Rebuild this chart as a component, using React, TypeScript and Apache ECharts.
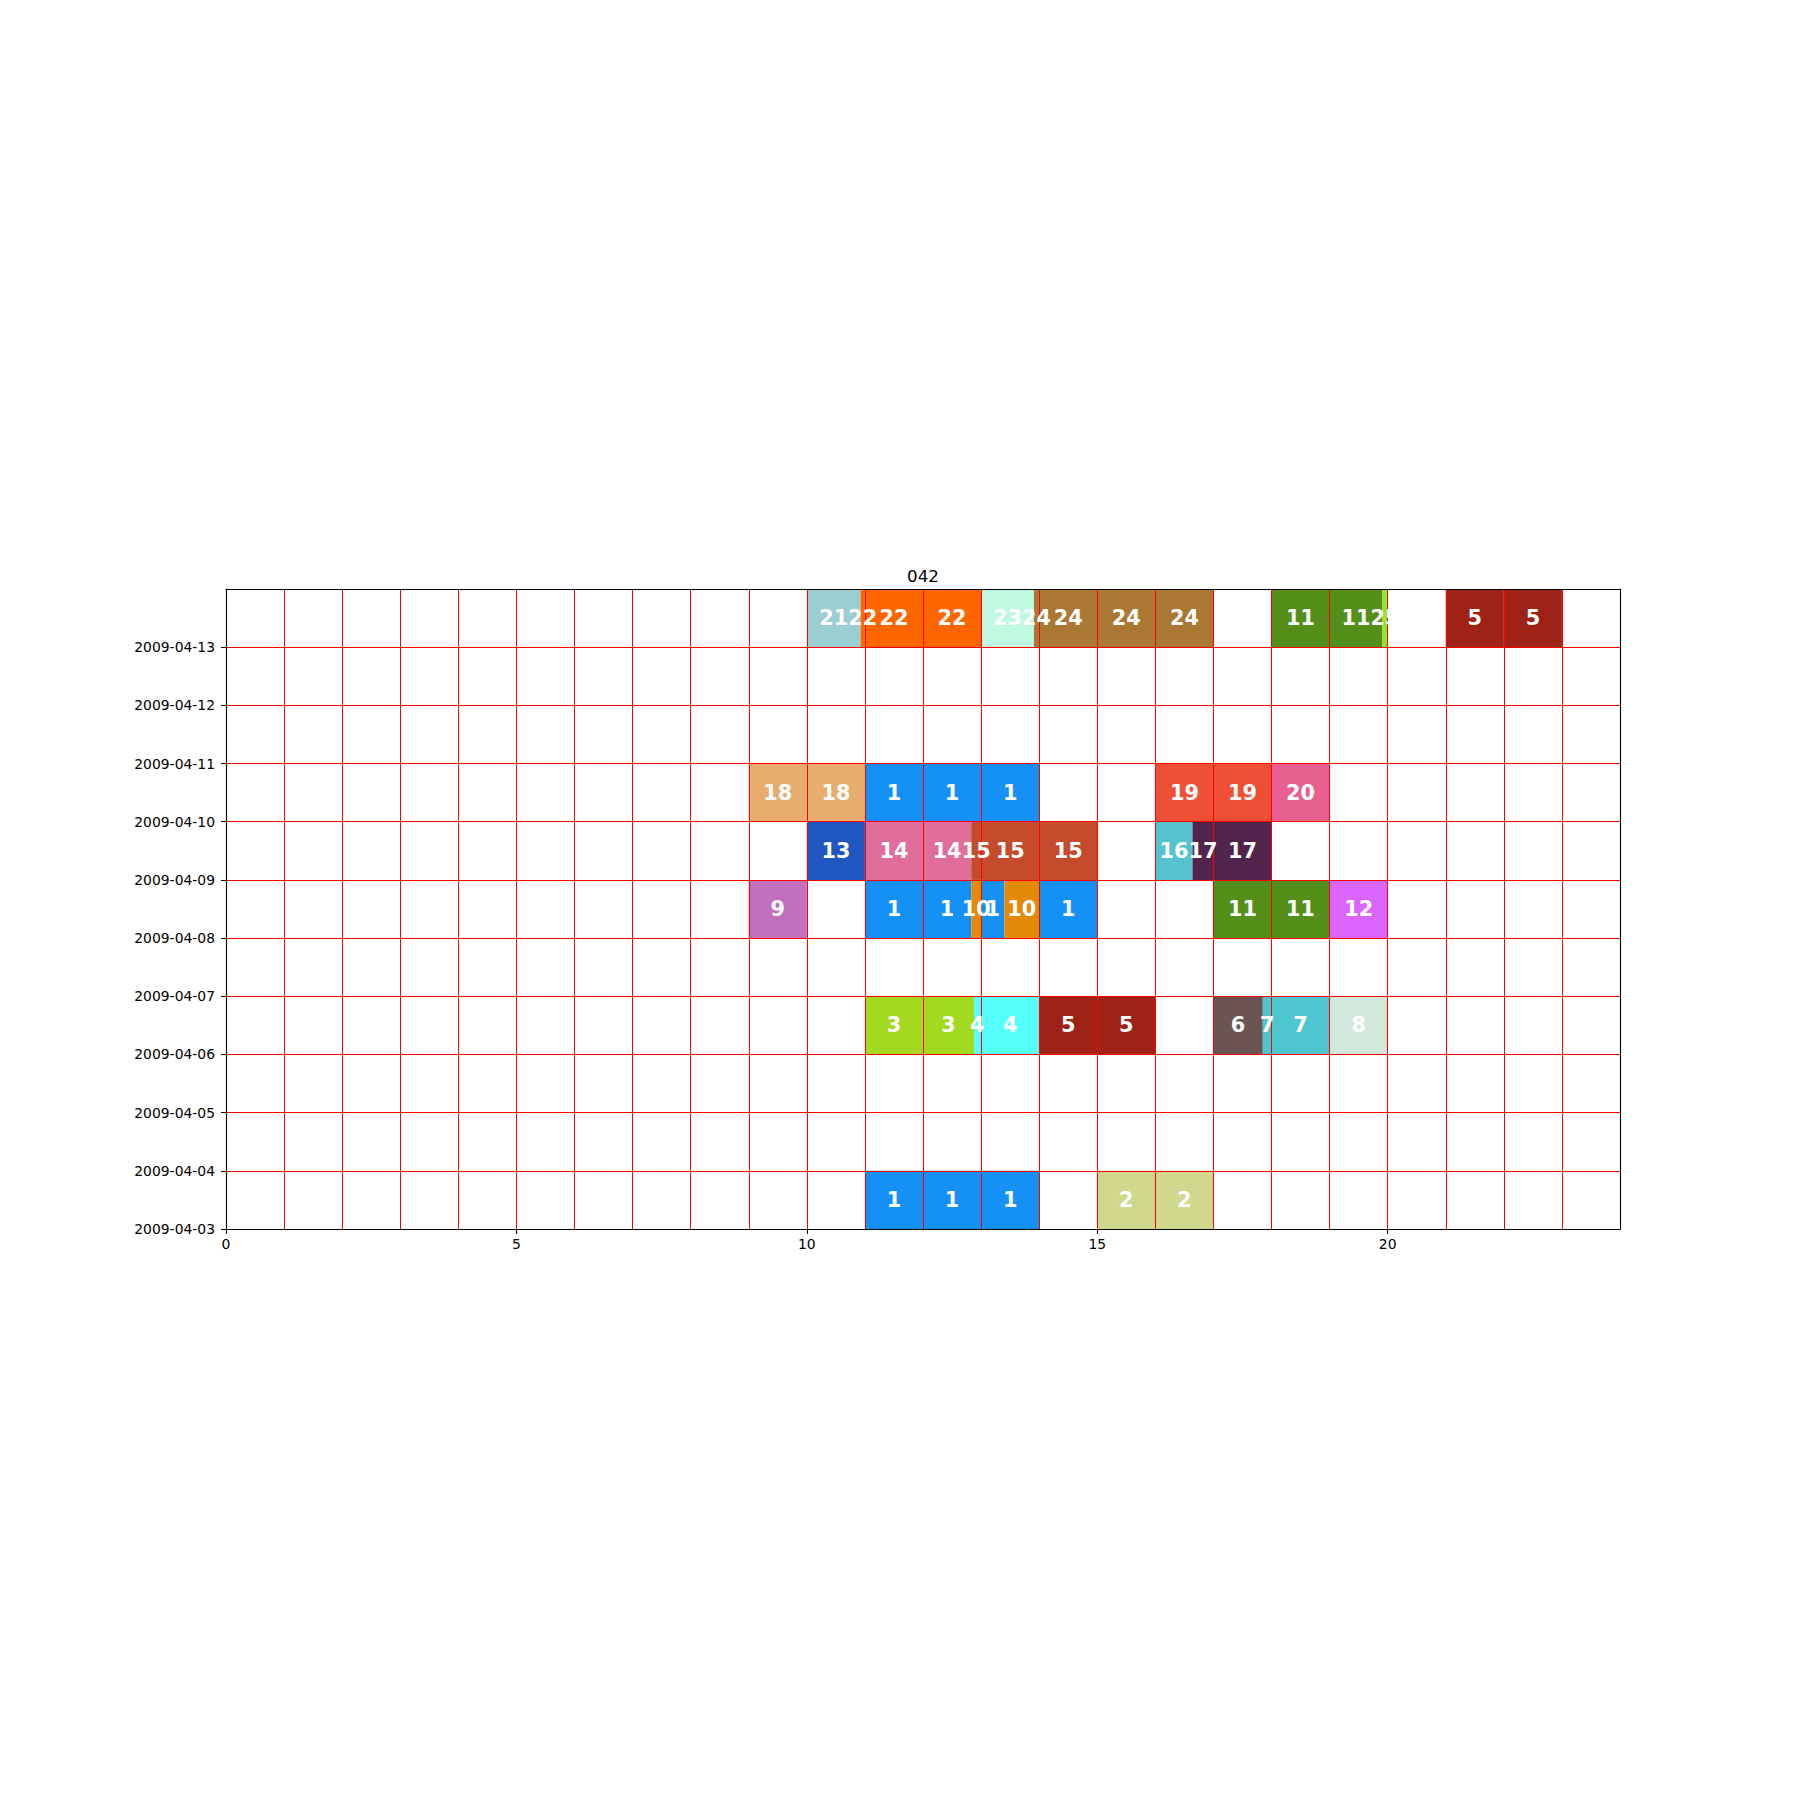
import React, { useEffect, useRef } from "react";
import * as echarts from "echarts";

const chartTitle = "042";

// y tick labels (one per day boundary)
const dateLabels = [
  "2009-04-03", "2009-04-04", "2009-04-05", "2009-04-06", "2009-04-07",
  "2009-04-08", "2009-04-09", "2009-04-10", "2009-04-11", "2009-04-12", "2009-04-13",
];
const yMax = 11; // top edge = 2009-04-14
const xMin = 0;
const xMax = 24;
const xTickLabels = [0, 5, 10, 15, 20];

// task colours
const taskColors: Record<number, string> = {
  1: "#1591F6", 2: "#D0D88E", 3: "#A3DA20", 4: "#55FFFB", 5: "#9E2316",
  6: "#6B5452", 7: "#4EC6D0", 8: "#D1E8DC", 9: "#C270BD", 10: "#E38B08",
  11: "#548F1A", 12: "#DA66FF", 13: "#1F56BF", 14: "#E06E98", 15: "#C54B2D",
  16: "#55C3CE", 17: "#52234B", 18: "#E8AD6E", 19: "#EE4F35", 20: "#E86090",
  21: "#9ACED3", 22: "#FF6600", 23: "#C0F9E2", 24: "#AB7834", 25: "#8FE62A",
};

// segments per day: [startHour, endHour, task]
const row0403 = [[11, 12, 1], [12, 13, 1], [13, 14, 1], [15, 16, 2], [16, 17, 2]];
const row0406 = [
  [11, 12, 3], [12, 12.88, 3], [12.88, 13, 4], [13, 14, 4], [14, 15, 5], [15, 16, 5],
  [17, 17.85, 6], [17.85, 18, 7], [18, 19, 7], [19, 20, 8],
];
const row0408 = [
  [9, 10, 9], [11, 12, 1], [12, 12.83, 1], [12.83, 13, 10], [13, 13.4, 1], [13.4, 14, 10],
  [14, 15, 1], [17, 18, 11], [18, 19, 11], [19, 20, 12],
];
const row0409 = [
  [10, 11, 13], [11, 12, 14], [12, 12.83, 14], [12.83, 13, 15], [13, 14, 15], [14, 15, 15],
  [16, 16.64, 16], [16.64, 17, 17], [17, 18, 17],
];
const row0410 = [
  [9, 10, 18], [10, 11, 18], [11, 12, 1], [12, 13, 1], [13, 14, 1],
  [16, 17, 19], [17, 18, 19], [18, 19, 20],
];
const row0413 = [
  [10, 10.925, 21], [10.925, 11, 22], [11, 12, 22], [12, 13, 22], [13, 13.91, 23],
  [13.91, 14, 24], [14, 15, 24], [15, 16, 24], [16, 17, 24],
  [18, 19, 11], [19, 19.91, 11], [19.91, 20, 25], [21, 22, 5], [22, 23, 5],
];

const rowsByDate: [string, number[][]][] = [
  ["2009-04-03", row0403],
  ["2009-04-06", row0406],
  ["2009-04-08", row0408],
  ["2009-04-09", row0409],
  ["2009-04-10", row0410],
  ["2009-04-13", row0413],
];

const segments: number[][] = [];
rowsByDate.forEach(([d, segs]) => {
  const r = dateLabels.indexOf(d);
  segs.forEach((s) => segments.push([s[0], s[1], r, s[2]]));
});

const FONT = "DejaVu Sans";

export default function App() {
  const ref = useRef<HTMLDivElement>(null);
  useEffect(() => {
    document.body.style.margin = "0";
    if (!ref.current) return;
    const chart = echarts.init(ref.current, undefined, { renderer: "svg" });

    const L = 226, T = 589, W = 1394, H = 640;
    const option: any = {
      animation: false,
      backgroundColor: "#ffffff",
      graphic: [
        {
          type: "text",
          x: L + W / 2,
          y: 575.5,
          style: {
            text: chartTitle,
            fontFamily: FONT,
            fontSize: 16.7,
            fill: "#000",
            align: "center",
            verticalAlign: "middle",
          },
        },
      ],
      grid: [
        { left: L, top: T, width: W, height: H, containLabel: false },
        {
          left: L,
          top: T + H / yMax,
          width: (W * 20) / (xMax - xMin),
          height: (H * 10) / yMax,
          containLabel: false,
        },
      ],
      xAxis: [
        {
          type: "value", gridIndex: 0, min: xMin, max: xMax, interval: 1, position: "bottom", z: 5,
          axisLine: { show: true, onZero: false, lineStyle: { color: "#000", width: 1.1 } },
          axisTick: { show: false },
          axisLabel: { show: false },
          splitLine: { show: true, showMinLine: false, showMaxLine: false, lineStyle: { color: "#ff0000", width: 1 } },
        },
        {
          type: "value", gridIndex: 0, min: xMin, max: xMax, position: "top", z: 6,
          axisLine: { show: true, onZero: false, lineStyle: { color: "#000", width: 1.1 } },
          axisTick: { show: false }, axisLabel: { show: false }, splitLine: { show: false },
        },
        {
          type: "value", gridIndex: 1, min: 0, max: 20, interval: 5, position: "bottom",
          axisLine: { show: false, onZero: false },
          axisTick: { show: true, length: 4.9, lineStyle: { color: "#000", width: 1.1 } },
          axisLabel: {
            show: true, margin: 8, color: "#000", fontFamily: FONT, fontSize: 13.9,
            formatter: (v: number) => (xTickLabels.indexOf(v) >= 0 ? String(v) : ""),
          },
          splitLine: { show: false },
        },
      ],
      yAxis: [
        {
          type: "value", gridIndex: 0, min: 0, max: yMax, interval: 1, position: "left", z: 5,
          axisLine: { show: true, onZero: false, lineStyle: { color: "#000", width: 1.1 } },
          axisTick: { show: false },
          axisLabel: { show: false },
          splitLine: { show: true, showMinLine: false, showMaxLine: false, lineStyle: { color: "#ff0000", width: 1 } },
        },
        {
          type: "value", gridIndex: 0, min: 0, max: yMax, position: "right", z: 6,
          axisLine: { show: true, onZero: false, lineStyle: { color: "#000", width: 1.1 } },
          axisTick: { show: false }, axisLabel: { show: false }, splitLine: { show: false },
        },
        {
          type: "value", gridIndex: 1, min: 0, max: 10, interval: 1, position: "left",
          axisLine: { show: false, onZero: false },
          axisTick: { show: true, length: 4.9, lineStyle: { color: "#000", width: 1.1 } },
          axisLabel: {
            show: true, margin: 11, color: "#000", fontFamily: FONT, fontSize: 13.9,
            formatter: (v: number) => dateLabels[v] ?? "",
          },
          splitLine: { show: false },
        },
      ],
      series: [
        {
          type: "custom",
          coordinateSystem: "cartesian2d",
          xAxisIndex: 0,
          yAxisIndex: 0,
          z: 2,
          data: segments,
          encode: { x: [0, 1], y: 2 },
          renderItem: (params: any, api: any) => {
            const s = api.value(0), e = api.value(1), r = api.value(2), t = api.value(3);
            const p0 = api.coord([s, r + 1]);
            const p1 = api.coord([e, r]);
            return {
              type: "rect",
              shape: { x: p0[0], y: p0[1], width: p1[0] - p0[0], height: p1[1] - p0[1] },
              style: { fill: taskColors[t] },
            };
          },
        },
        {
          type: "custom",
          coordinateSystem: "cartesian2d",
          xAxisIndex: 0,
          yAxisIndex: 0,
          z: 10,
          data: segments,
          encode: { x: [0, 1], y: 2 },
          renderItem: (params: any, api: any) => {
            const s = api.value(0), e = api.value(1), r = api.value(2), t = api.value(3);
            const c = api.coord([(s + e) / 2, r + 0.5]);
            return {
              type: "text",
              x: c[0],
              y: c[1],
              style: {
                text: String(t),
                fill: "#ffffff",
                fontFamily: FONT,
                fontWeight: "bold",
                fontSize: 20.8,
                align: "center",
                verticalAlign: "middle",
              },
            };
          },
        },
      ],
    };
    chart.setOption(option);
    return () => chart.dispose();
  }, []);
  return <div ref={ref} style={{ width: 1800, height: 1800 }} />;
}
